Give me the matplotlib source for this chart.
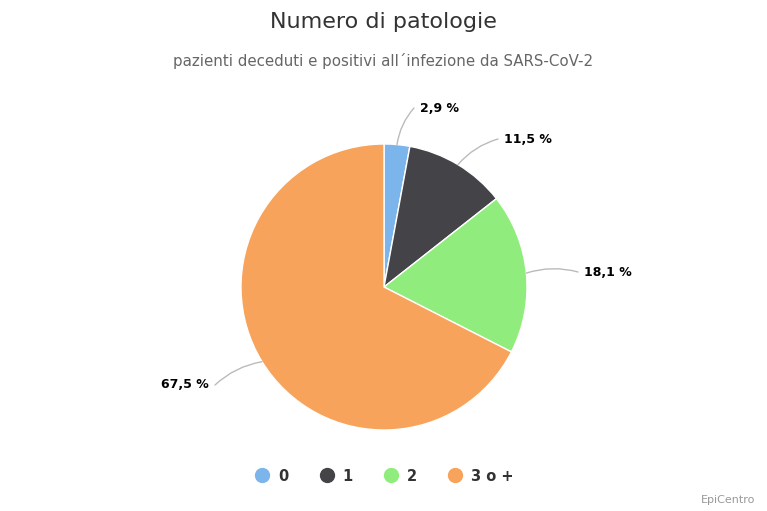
import numpy as np
import matplotlib.pyplot as plt
from matplotlib.lines import Line2D

categories = ['0', '1', '2', '3 o +']
shares = [2.9, 11.5, 18.1, 67.5]
colors = ['#7cb5ec', '#434348', '#90ed7d', '#f7a35c']

W, H = 767, 511
dpi = 100
fig = plt.figure(figsize=(W / dpi, H / dpi), dpi=dpi)
plt.rcParams['font.family'] = 'DejaVu Sans'

# axes in pixel units (y measured upward)
ax = fig.add_axes([0, 0, 1, 1])

cx, cy, r = 384, H - 287, 143
wedges, _ = ax.pie(shares, colors=colors, startangle=90, counterclock=False,
                   center=(cx, cy), radius=r, frame=True,
                   wedgeprops=dict(edgecolor='white', linewidth=1))
ax.set_xlim(0, W)
ax.set_ylim(0, H)
ax.set_aspect('equal')
ax.axis('off')

# label positions (pixel, from top) and alignment
label_pos = [(420, 108, 'left'), (504, 139, 'left'),
             (584, 272, 'left'), (209, 385, 'right')]

for w, val, (lx, ly, ha) in zip(wedges, shares, label_pos):
    ang = np.deg2rad((w.theta1 + w.theta2) / 2)
    ex, ey = cx + r * np.cos(ang), cy + r * np.sin(ang)
    ty = H - ly
    tx = lx - 6 if ha == 'left' else lx + 6
    rad = 0.15 if ha == 'left' else -0.15
    ax.annotate('', xy=(ex, ey), xytext=(tx, ty),
                arrowprops=dict(arrowstyle='-', color='#bbbbbb', lw=1,
                                shrinkA=0, shrinkB=0,
                                connectionstyle=f'arc3,rad={rad}'))
    ax.text(lx, ty, f'{val:.1f} %'.replace('.', ','), ha=ha, va='center',
            fontsize=9, fontweight='bold', color='#000000')

fig.text(0.5, 1 - 22 / H, 'Numero di patologie', ha='center', va='center',
         fontsize=16, color='#333333')
fig.text(0.5, 1 - 61 / H, 'pazienti deceduti e positivi all\u00b4infezione da SARS-CoV-2',
         ha='center', va='center', fontsize=10.8, color='#666666')
fig.text(1 - 12 / W, 1 - 500 / H, 'EpiCentro', ha='right', va='center',
         fontsize=8, color='#999999')

handles = [Line2D([], [], marker='o', linestyle='', markersize=10,
                  markerfacecolor=c, markeredgecolor=c) for c in colors]
leg = fig.legend(handles, categories, loc='center', ncol=4,
                 bbox_to_anchor=(0.5, 1 - 476 / H), frameon=False,
                 handletextpad=0.5, columnspacing=2.0, handlelength=1.2,
                 prop=dict(size=10.5, weight='bold'))
for t in leg.get_texts():
    t.set_color('#333333')

fig.savefig('out.png', dpi=dpi)
